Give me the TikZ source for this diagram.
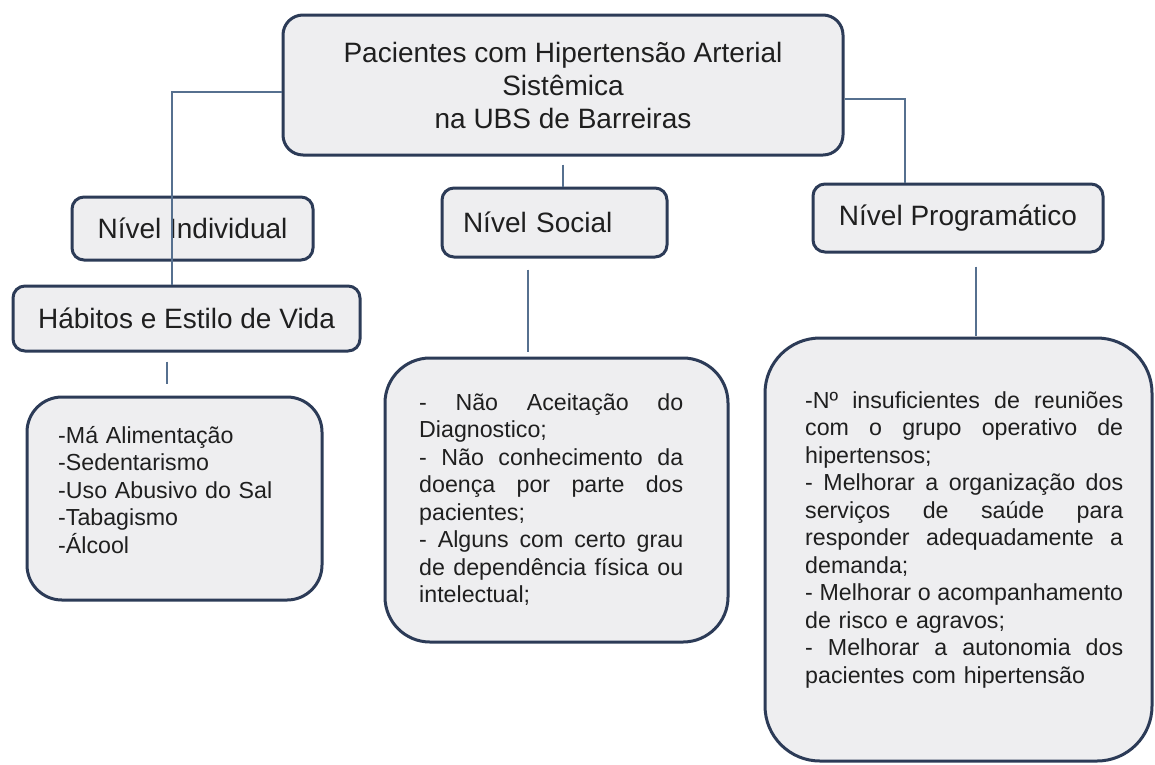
\documentclass[tikz,border=0pt]{standalone}
\usepackage{fontspec}
\setmainfont{Liberation Sans}
\definecolor{boxc}{HTML}{2C3B57}
\definecolor{fillc}{HTML}{EEEEF0}
\definecolor{linec}{HTML}{56708F}
\definecolor{txtc}{HTML}{1F1F1F}
\newcommand\bigf{\fontsize{28}{33}\selectfont}
\newcommand\smallf{\fontsize{23.2}{27.5}\selectfont}
\newcommand\jm[1]{\leavevmode\hbox to 264pt{#1}}
\newcommand\jr[1]{\leavevmode\hbox to 318pt{#1}}
\begin{document}
\begin{tikzpicture}[x=1pt,y=-1pt,
  box/.style={draw=boxc, line width=3pt, fill=fillc, rounded corners=12pt, text=txtc, inner sep=0pt},
  txt/.style={inner sep=0pt, align=left, text=txtc, font=\smallf},
  conn/.style={draw=linec, line width=1.5pt}]
\useasboundingbox (0,0) rectangle (1155,764);
\fill[white] (0,0) rectangle (1155,764);

\node[box, rounded corners=20pt, minimum width=560pt, minimum height=140pt, font=\bigf, align=center] (root) at (563,85)
  {Pacientes com Hipertensão Arterial\\Sistêmica\\na UBS de Barreiras};

\node[box, minimum width=241pt, minimum height=63pt, font=\bigf] (ind) at (192.5,228.5) {Nível Individual};
\node[box, minimum width=347pt, minimum height=65pt, font=\bigf] (hab) at (186.5,318.5) {Hábitos e Estilo de Vida};
\node[box, rounded corners=35pt, minimum width=295pt, minimum height=203pt] (l1) at (174.5,498.5) {};

\node[box, minimum height=69pt, font=\bigf, text width=183pt, inner xsep=21pt, align=left] (soc) at (554.5,222.5) {Nível Social};
\node[box, rounded corners=45pt, minimum width=343pt, minimum height=284pt] (l2) at (556.5,500) {};

\node[box, minimum width=290pt, minimum height=68pt, font=\bigf] (prog) at (958,218) {Nível Programático};
\node[box, rounded corners=55pt, minimum width=387pt, minimum height=423pt] (l3) at (958.5,549.5) {};

\node[txt, text width=250pt, anchor=base west] (t1) at (58,443)
  {-Má Alimentação\\-Sedentarismo\\-Uso Abusivo do Sal\\-Tabagismo\\-Álcool};

\node[txt, text width=264pt, anchor=base west] (t2) at (419,410)
  {\jm{-\hfill Não\hfill Aceitação\hfill do}\\
   Diagnostico;\\
   \jm{-\hfill Não\hfill conhecimento\hfill da}\\
   \jm{doença\hfill por\hfill parte\hfill dos}\\
   pacientes;\\
   \jm{-\hfill Alguns\hfill com\hfill certo\hfill grau}\\
   \jm{de\hfill dependência\hfill física\hfill ou}\\
   intelectual;};

\node[txt, text width=318pt, anchor=base west] (t3) at (805,408)
  {\jr{-Nº\hfill insuficientes\hfill de\hfill reuniões}\\
   \jr{com\hfill o\hfill grupo\hfill operativo\hfill de}\\
   hipertensos;\\
   \jr{-\hfill Melhorar\hfill a\hfill organização\hfill dos}\\
   \jr{serviços\hfill de\hfill saúde\hfill para}\\
   \jr{responder\hfill adequadamente\hfill a}\\
   demanda;\\
   \jr{-\hfill Melhorar\hfill o\hfill acompanhamento}\\
   de risco e agravos;\\
   \jr{-\hfill Melhorar\hfill a\hfill autonomia\hfill dos}\\
   pacientes com hipertensão};

\draw[conn] ([yshift=-7pt]root.west) -| ([xshift=-14.5pt]hab.north);
\draw[conn] ([yshift=-8pt]root.south) -- (root.south |- soc.north);
\draw[conn] ([yshift=-14pt]root.east) -| ([xshift=-53pt]prog.north);
\draw[conn, shorten <=9pt, shorten >=12pt] ([xshift=-19.5pt]hab.south) -- ([xshift=-19.5pt]hab.south |- l1.north);
\draw[conn, shorten <=11pt, shorten >=5pt] ([xshift=-26.5pt]soc.south) -- ([xshift=-26.5pt]soc.south |- l2.north);
\draw[conn, shorten <=13pt, shorten >=1pt] ([xshift=18pt]prog.south) -- ([xshift=18pt]prog.south |- l3.north);
\end{tikzpicture}
\end{document}
